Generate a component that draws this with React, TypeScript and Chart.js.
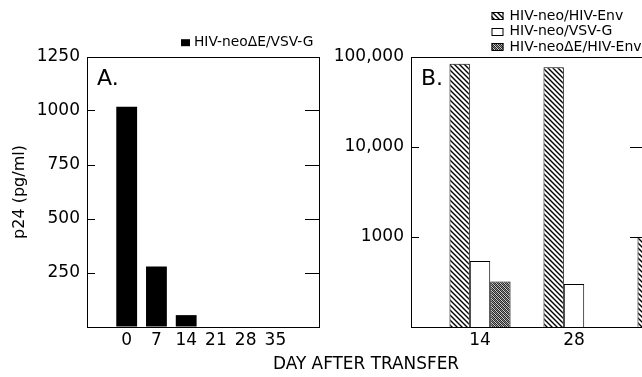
import React, { useEffect, useRef } from 'react';
import { Chart, registerables } from 'chart.js';

Chart.register(...registerables);

// ---------- data ----------
const daysA = [0, 7, 14, 21, 28, 35];
const p24A = [1020, 280, 55, 0, 0, 0];
const seriesA = 'HIV-neoΔE/VSV-G';
const yTicksA = [0, 250, 500, 750, 1000, 1250];

const daysB = [14, 28, 42];
const xTicksB = [14, 28];
const envB = [84000, 77000, 1000];
const vsvB = [540, 300, null];
const deltaB = [320, null, null];
const seriesB = ['HIV-neo/HIV-Env', 'HIV-neo/VSV-G', 'HIV-neoΔE/HIV-Env'];
const yTicksB = [100, 1000, 10000, 100000];

const xTitle = 'DAY AFTER TRANSFER';
const yTitle = 'p24 (pg/ml)';
const panelA = 'A.';
const panelB = 'B.';

const FONT = '"DejaVu Sans", "Liberation Sans", Arial, sans-serif';

// ---------- patterns ----------
function hatchPattern(): CanvasPattern | string {
  const c = document.createElement('canvas');
  c.width = 5;
  c.height = 5;
  const g = c.getContext('2d');
  if (!g) return '#888';
  g.fillStyle = '#fff';
  g.fillRect(0, 0, 5, 5);
  g.strokeStyle = '#000';
  g.lineWidth = 1.4;
  g.beginPath();
  g.moveTo(-1, -1);
  g.lineTo(6, 6);
  g.moveTo(-1, 4);
  g.lineTo(1, 6);
  g.moveTo(4, -1);
  g.lineTo(6, 1);
  g.stroke();
  return g.createPattern(c, 'repeat') || '#888';
}

function ditherPattern(): CanvasPattern | string {
  const c = document.createElement('canvas');
  c.width = 4;
  c.height = 4;
  const g = c.getContext('2d');
  if (!g) return '#777';
  const cols = ['#2a2a2a', '#d0d0d0', '#8a8a8a'];
  const map = [
    [0, 1, 0, 2],
    [2, 0, 1, 0],
    [0, 2, 0, 1],
    [1, 0, 2, 0],
  ];
  for (let y = 0; y < 4; y++)
    for (let x = 0; x < 4; x++) {
      g.fillStyle = cols[map[y][x]];
      g.fillRect(x, y, 1, 1);
    }
  return g.createPattern(c, 'repeat') || '#777';
}

// ---------- decoration plugin (panel letters, legend, shared axis title) ----------
const deco = {
  id: 'deco',
  afterDraw(chart: any, _args: any, opts: any) {
    const ctx = chart.ctx as CanvasRenderingContext2D;
    ctx.save();
    ctx.fillStyle = '#000';
    ctx.textBaseline = 'middle';
    for (const t of opts.texts || []) {
      ctx.font = t.font;
      ctx.textAlign = t.align || 'left';
      ctx.fillStyle = '#000';
      ctx.fillText(t.text, t.x, t.y);
    }
    const lg = opts.legend;
    if (lg) {
      chart.data.datasets.forEach((ds: any, i: number) => {
        const y = lg.y + i * lg.row;
        ctx.fillStyle = ds.backgroundColor;
        ctx.fillRect(lg.x, y - lg.bh / 2, lg.bw, lg.bh);
        if (lg.stroke) {
          ctx.strokeStyle = '#000';
          ctx.lineWidth = 1;
          ctx.strokeRect(lg.x + 0.5, Math.round(y - lg.bh / 2) + 0.5, lg.bw - 1, lg.bh - 1);
        }
        ctx.fillStyle = '#000';
        ctx.font = lg.font;
        ctx.textAlign = 'left';
        ctx.fillText(ds.label, lg.x + lg.bw + lg.gap, y);
      });
    }
    ctx.restore();
  },
};

const W_A = 642;
const W_B = 700;
const H = 377;

export default function App() {
  const refA = useRef<HTMLCanvasElement>(null);
  const refB = useRef<HTMLCanvasElement>(null);

  useEffect(() => {
    if (!refA.current || !refB.current) return;
    const tickFont = { family: FONT, size: 17 };
    const xGrid = { display: false, drawTicks: false, tickLength: 0 };

    const chartA = new Chart(refA.current, {
      type: 'bar',
      data: {
        datasets: [
          {
            label: seriesA,
            data: daysA.map((d, i) => ({ x: d, y: p24A[i] })),
            backgroundColor: '#000',
            borderWidth: 0,
            categoryPercentage: 0.7,
            barPercentage: 1,
          } as any,
        ],
      },
      options: {
        responsive: false,
        animation: false,
        events: [],
        layout: { padding: { left: 0, right: 0, top: 57, bottom: 0 } },
        plugins: {
          legend: { display: false },
          tooltip: { enabled: false },
          deco: {
            texts: [{ text: panelA, x: 97, y: 79, font: `22px ${FONT}` }],
            legend: { x: 181, y: 42.7, row: 15, bw: 9, bh: 7, gap: 4, font: `13.8px ${FONT}`, stroke: false },
          },
        } as any,
        scales: {
          x: {
            type: 'linear',
            position: 'bottom',
            offset: false,
            min: -9.34,
            max: 45.25,
            afterBuildTicks: (s: any) => {
              s.ticks = daysA.map((v) => ({ value: v }));
            },
            afterFit: (s: any) => {
              s.height = 50;
            },
            grid: xGrid,
            border: { display: true, color: '#000', width: 1 },
            ticks: { font: tickFont, color: '#000', padding: 3, maxRotation: 0, autoSkip: false },
          },
          x2: {
            type: 'linear',
            position: 'top',
            offset: false,
            min: -9.34,
            max: 45.25,
            afterFit: (s: any) => {
              s.height = 0;
            },
            grid: xGrid,
            border: { display: true, color: '#000', width: 1 },
            ticks: { display: false },
          },
          y: {
            type: 'linear',
            position: 'left',
            min: 0,
            max: 1250,
            afterBuildTicks: (s: any) => {
              s.ticks = yTicksA.map((v) => ({ value: v }));
            },
            afterFit: (s: any) => {
              s.width = 87;
            },
            grid: { drawOnChartArea: false, drawTicks: true, tickLength: -8, color: '#000', lineWidth: 1 },
            border: { display: true, color: '#000', width: 1 },
            ticks: {
              font: tickFont,
              color: '#000',
              padding: 15,
              callback: (v: any) => (v === 0 ? '' : String(v)),
            },
            title: {
              display: true,
              text: yTitle,
              font: { family: FONT, size: 16 },
              color: '#000',
              padding: { top: 10, bottom: 0 },
            },
          },
          y2: {
            type: 'linear',
            position: 'right',
            min: 0,
            max: 1250,
            afterBuildTicks: (s: any) => {
              s.ticks = yTicksA.map((v) => ({ value: v }));
            },
            afterFit: (s: any) => {
              s.width = W_A - 319;
            },
            grid: { drawOnChartArea: false, drawTicks: true, tickLength: -14, color: '#000', lineWidth: 1 },
            border: { display: true, color: '#000', width: 1 },
            ticks: { display: false },
          },
        },
      } as any,
      plugins: [deco as any],
    });

    const chartB = new Chart(refB.current, {
      type: 'bar',
      data: {
        datasets: [
          {
            label: seriesB[0],
            data: daysB.map((d, i) => ({ x: d, y: envB[i] })),
            backgroundColor: hatchPattern(),
            borderColor: '#000',
            borderWidth: 1,
            categoryPercentage: 0.65,
            barPercentage: 1,
          },
          {
            label: seriesB[1],
            data: daysB.map((d, i) => ({ x: d, y: vsvB[i] })),
            backgroundColor: '#fff',
            borderColor: '#000',
            borderWidth: 1,
            categoryPercentage: 0.65,
            barPercentage: 1,
          },
          {
            label: seriesB[2],
            data: daysB.map((d, i) => ({ x: d, y: deltaB[i] })),
            backgroundColor: ditherPattern(),
            borderColor: '#000',
            borderWidth: 1,
            categoryPercentage: 0.65,
            barPercentage: 1,
          },
        ] as any,
      },
      options: {
        responsive: false,
        animation: false,
        events: [],
        layout: { padding: { left: 0, right: 0, top: 57, bottom: 0 } },
        plugins: {
          legend: { display: false },
          tooltip: { enabled: false },
          deco: {
            texts: [
              { text: panelB, x: 421, y: 79, font: `22px ${FONT}` },
              { text: xTitle, x: 366, y: 364.5, font: `16.9px ${FONT}`, align: 'center' },
            ],
            legend: { x: 491.5, y: 16, row: 15.5, bw: 12, bh: 8, gap: 6, font: `14px ${FONT}`, stroke: true },
          },
        } as any,
        scales: {
          x: {
            type: 'linear',
            position: 'bottom',
            offset: false,
            min: 3.72,
            max: 38.72,
            afterBuildTicks: (s: any) => {
              s.ticks = xTicksB.map((v) => ({ value: v }));
            },
            afterFit: (s: any) => {
              s.height = 50;
            },
            grid: xGrid,
            border: { display: true, color: '#000', width: 1 },
            ticks: { font: tickFont, color: '#000', padding: 3, maxRotation: 0, autoSkip: false },
          },
          x2: {
            type: 'linear',
            position: 'top',
            offset: false,
            min: 3.72,
            max: 38.72,
            afterFit: (s: any) => {
              s.height = 0;
            },
            grid: xGrid,
            border: { display: true, color: '#000', width: 1 },
            ticks: { display: false },
          },
          y: {
            type: 'logarithmic',
            position: 'left',
            min: 100,
            max: 100000,
            afterBuildTicks: (s: any) => {
              s.ticks = yTicksB.map((v) => ({ value: v, major: false }));
            },
            afterFit: (s: any) => {
              s.width = 411;
            },
            grid: { drawOnChartArea: false, drawTicks: true, tickLength: -8, color: '#000', lineWidth: 1 },
            border: { display: true, color: '#000', width: 1 },
            ticks: {
              font: tickFont,
              color: '#000',
              padding: 15,
              autoSkip: false,
              callback: (v: any) =>
                v === 100 ? '' : v >= 10000 ? Number(v).toLocaleString('en-US') : String(v),
            },
          },
          y2: {
            type: 'logarithmic',
            position: 'right',
            min: 100,
            max: 100000,
            afterBuildTicks: (s: any) => {
              s.ticks = yTicksB.map((v) => ({ value: v, major: false }));
            },
            afterFit: (s: any) => {
              s.width = W_B - 646;
            },
            grid: { drawOnChartArea: false, drawTicks: true, tickLength: -16, color: '#000', lineWidth: 1 },
            border: { display: true, color: '#000', width: 1 },
            ticks: { display: false },
          },
        },
      } as any,
      plugins: [deco as any],
    });

    return () => {
      chartA.destroy();
      chartB.destroy();
    };
  }, []);

  return (
    <div
      style={{
        position: 'fixed',
        left: 0,
        top: 0,
        width: 642,
        height: 377,
        overflow: 'hidden',
        background: '#fff',
      }}
    >
      <canvas ref={refA} width={W_A} height={H} style={{ position: 'absolute', left: 0, top: 0 }} />
      <canvas ref={refB} width={W_B} height={H} style={{ position: 'absolute', left: 0, top: 0 }} />
    </div>
  );
}
